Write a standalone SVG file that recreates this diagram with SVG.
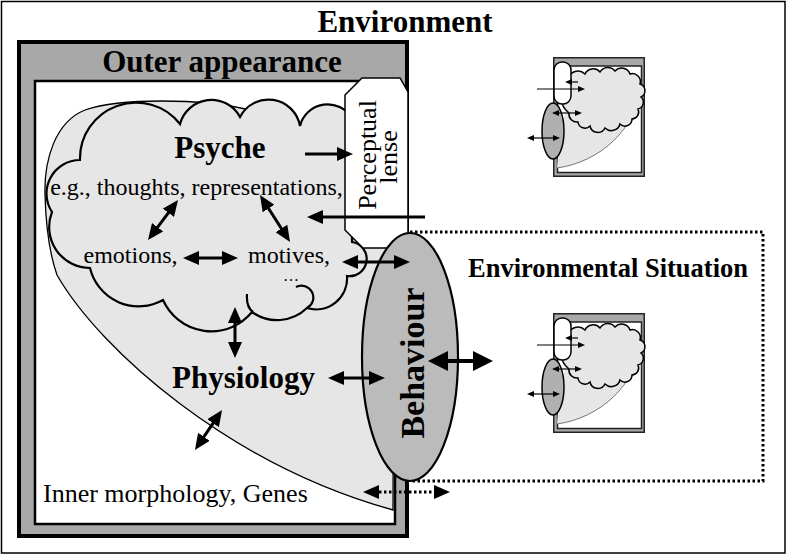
<svg xmlns="http://www.w3.org/2000/svg" width="787" height="555" viewBox="0 0 787 555">
<style>
.tb{font-family:"Liberation Serif","Times New Roman",serif;font-weight:bold;fill:#000}
.tr{font-family:"Liberation Serif","Times New Roman",serif;fill:#000}
.ln{stroke:#000;stroke-width:3;fill:none}
.thin{stroke:#000;stroke-width:1.2;fill:none}
.dot{stroke:#000;stroke-width:3;fill:none;stroke-dasharray:2.5 2.5}
</style>
<defs>
<marker id="ah" viewBox="0 0 16 14" refX="5" refY="7" markerWidth="16" markerHeight="14" markerUnits="userSpaceOnUse" orient="auto-start-reverse"><path d="M0,0 L16,7 L0,14 z" fill="#000"/></marker>
<marker id="ahb" viewBox="0 0 20 20" refX="6" refY="10" markerWidth="20" markerHeight="20" markerUnits="userSpaceOnUse" orient="auto-start-reverse"><path d="M0,0 L20,10 L0,20 z" fill="#000"/></marker>
<marker id="ahs" viewBox="0 0 7 6" refX="2" refY="3" markerWidth="7" markerHeight="6" markerUnits="userSpaceOnUse" orient="auto-start-reverse"><path d="M0,0 L7,3 L0,6 z" fill="#000"/></marker>
<g id="thumb">
<rect x="553.75" y="57.75" width="90.5" height="118.5" fill="#a8a8a8" stroke="#222" stroke-width="1.5"/>
<rect x="557.5" y="66" width="84" height="106.5" fill="#fff" stroke="#222" stroke-width="1.5"/>
<path d="M 572,92 L 560,130 L 557,168 C 600,162 635,130 643,85 L 625,78 Z" fill="#e6e6e6"/>
<path d="M 557,168 C 600,162 635,130 643,85" fill="none" stroke="#555" stroke-width="0.8"/>
<path d="M 568,82 A 10 10 0 0 1 585,74 A 9 9 0 0 1 600,72 A 9 9 0 0 1 615,71 A 9 9 0 0 1 630,74 A 8 8 0 0 1 640,84 A 7 7 0 0 1 641,97 A 7 7 0 0 1 638,109 A 7 7 0 0 1 632,119 A 7 7 0 0 1 620,124 A 9 9 0 0 1 605,128 A 8 8 0 0 1 590,126 A 7 7 0 0 1 578,122 A 8 8 0 0 1 569,113 A 20 20 0 0 1 568,82 Z" fill="#e6e6e6" stroke="#000" stroke-width="1.5"/>
<rect x="554" y="62" width="17" height="42" rx="8" fill="#fff" stroke="#000" stroke-width="1.5"/>
<ellipse cx="553" cy="131" rx="11" ry="28" fill="#b0b0b0" stroke="#000" stroke-width="1.5"/>
<line x1="537" y1="89" x2="580" y2="89" class="thin" marker-end="url(#ahs)"/>
<line x1="578" y1="82" x2="570" y2="82" class="thin" marker-end="url(#ahs)"/>
<line x1="557" y1="113" x2="577" y2="113" class="thin" marker-start="url(#ahs)" marker-end="url(#ahs)"/>
<line x1="532" y1="138" x2="555" y2="138" class="thin" marker-start="url(#ahs)" marker-end="url(#ahs)"/>
</g>
</defs>

<rect x="1.5" y="1.5" width="783.5" height="551.5" fill="#fff" stroke="#000" stroke-width="1.5"/>
<text class="tb" x="405" y="32" font-size="31" text-anchor="middle">Environment</text>

<g id="outer-appearance">
<rect x="19" y="42" width="388" height="494" fill="#a8a8a8" stroke="#000" stroke-width="4"/>
<rect x="35" y="81" width="360" height="443" fill="#fff" stroke="#000" stroke-width="2.5"/>
<text class="tb" x="222" y="72" font-size="31" text-anchor="middle">Outer appearance</text>
</g>

<g id="inner-morphology">
<path d="M 250,110 C 200,98 120,98 85,110 C 55,122 44,160 45,195 C 46,230 50,255 57,275 C 100,350 230,465 393,510 L 394,200 L 345,200 Z" fill="#e6e6e6" stroke="#000" stroke-width="1.3"/>
<text class="tr" x="43" y="502" font-size="26">Inner morphology, Genes</text>
</g>

<g id="psyche">
<path d="M 52,212 A 33.6 33.6 0 0 1 80,160 A 56 56 0 0 1 180,124 A 32.5 32.5 0 0 1 240,117 A 32 32 0 0 1 300,126 A 28.5 28.5 0 0 1 352,118 L 352,242 A 17 17 0 0 1 347,276 A 31 31 0 0 1 307,308 A 43 43 0 0 1 252,312 A 52.8 52.8 0 0 1 163,300 A 50 50 0 0 1 90,268 A 41 41 0 0 1 52,212 Z" fill="#e6e6e6" stroke="#000" stroke-width="2.2"/>
<path d="M 247,294 Q 246,307 253,312 M 307,308 A 11 11 0 0 0 296,287" fill="none" stroke="#000" stroke-width="2.2"/>
<text class="tb" x="220" y="158" font-size="31" text-anchor="middle">Psyche</text>
<text class="tr" x="196.5" y="195" font-size="24" text-anchor="middle">e.g., thoughts, representations,</text>
<text class="tr" x="130.5" y="263" font-size="24" text-anchor="middle">emotions,</text>
<text class="tr" x="289" y="263" font-size="24" text-anchor="middle">motives,</text>
<text class="tr" x="291" y="281" font-size="16" text-anchor="middle">…</text>
</g>

<g id="physiology">
<text class="tb" x="243.5" y="388" font-size="31" text-anchor="middle">Physiology</text>
</g>

<g id="perceptual-lense">
<path d="M 345,95 L 362,78 L 400,78 L 408,92 L 408,248 L 363,248 L 345,230 Z" fill="#fff" stroke="#000" stroke-width="1.5"/>
<text class="tr" font-size="26" text-anchor="middle" transform="translate(376,155) rotate(-90)">Perceptual</text>
<text class="tr" font-size="26" text-anchor="middle" transform="translate(397,157) rotate(-90)">lense</text>
</g>

<g id="environmental-situation">
<path d="M 410,232 H 763 V 481 H 410" class="dot"/>
<text class="tb" x="608" y="277" font-size="26.5" text-anchor="middle">Environmental Situation</text>
</g>

<g id="behaviour">
<ellipse cx="410" cy="357" rx="48" ry="124" fill="#bbbbbb" stroke="#000" stroke-width="2.2"/>
<text class="tb" font-size="34" text-anchor="middle" transform="translate(424,363) rotate(-90)">Behaviour</text>
</g>

<g id="thumb-top"><use href="#thumb"/></g>
<g id="thumb-bottom"><use href="#thumb" y="256"/></g>

<g id="connectors">
<line x1="305" y1="154" x2="342" y2="154" class="ln" marker-end="url(#ah)"/>
<line x1="425" y1="217" x2="318" y2="217" class="ln" marker-end="url(#ah)"/>
<line x1="171.4" y1="208.8" x2="154.6" y2="231.2" class="ln" marker-start="url(#ah)" marker-end="url(#ah)"/>
<line x1="265.9" y1="204.3" x2="284.1" y2="232.7" class="ln" marker-start="url(#ah)" marker-end="url(#ah)"/>
<line x1="194" y1="258" x2="227" y2="258" class="ln" marker-start="url(#ah)" marker-end="url(#ah)"/>
<line x1="353" y1="262" x2="399" y2="262" class="ln" marker-start="url(#ah)" marker-end="url(#ah)"/>
<line x1="235" y1="318" x2="235" y2="347" class="ln" marker-start="url(#ah)" marker-end="url(#ah)"/>
<line x1="339" y1="378" x2="374" y2="378" class="ln" marker-start="url(#ah)" marker-end="url(#ah)"/>
<line x1="215.9" y1="419.1" x2="201.1" y2="440.9" class="ln" marker-start="url(#ah)" marker-end="url(#ah)"/>
<line x1="442" y1="361" x2="479" y2="361" stroke="#000" stroke-width="4" marker-start="url(#ahb)" marker-end="url(#ahb)"/>
<line x1="374" y1="492" x2="439" y2="492" class="dot" marker-start="url(#ah)" marker-end="url(#ah)"/>
</g>
</svg>
